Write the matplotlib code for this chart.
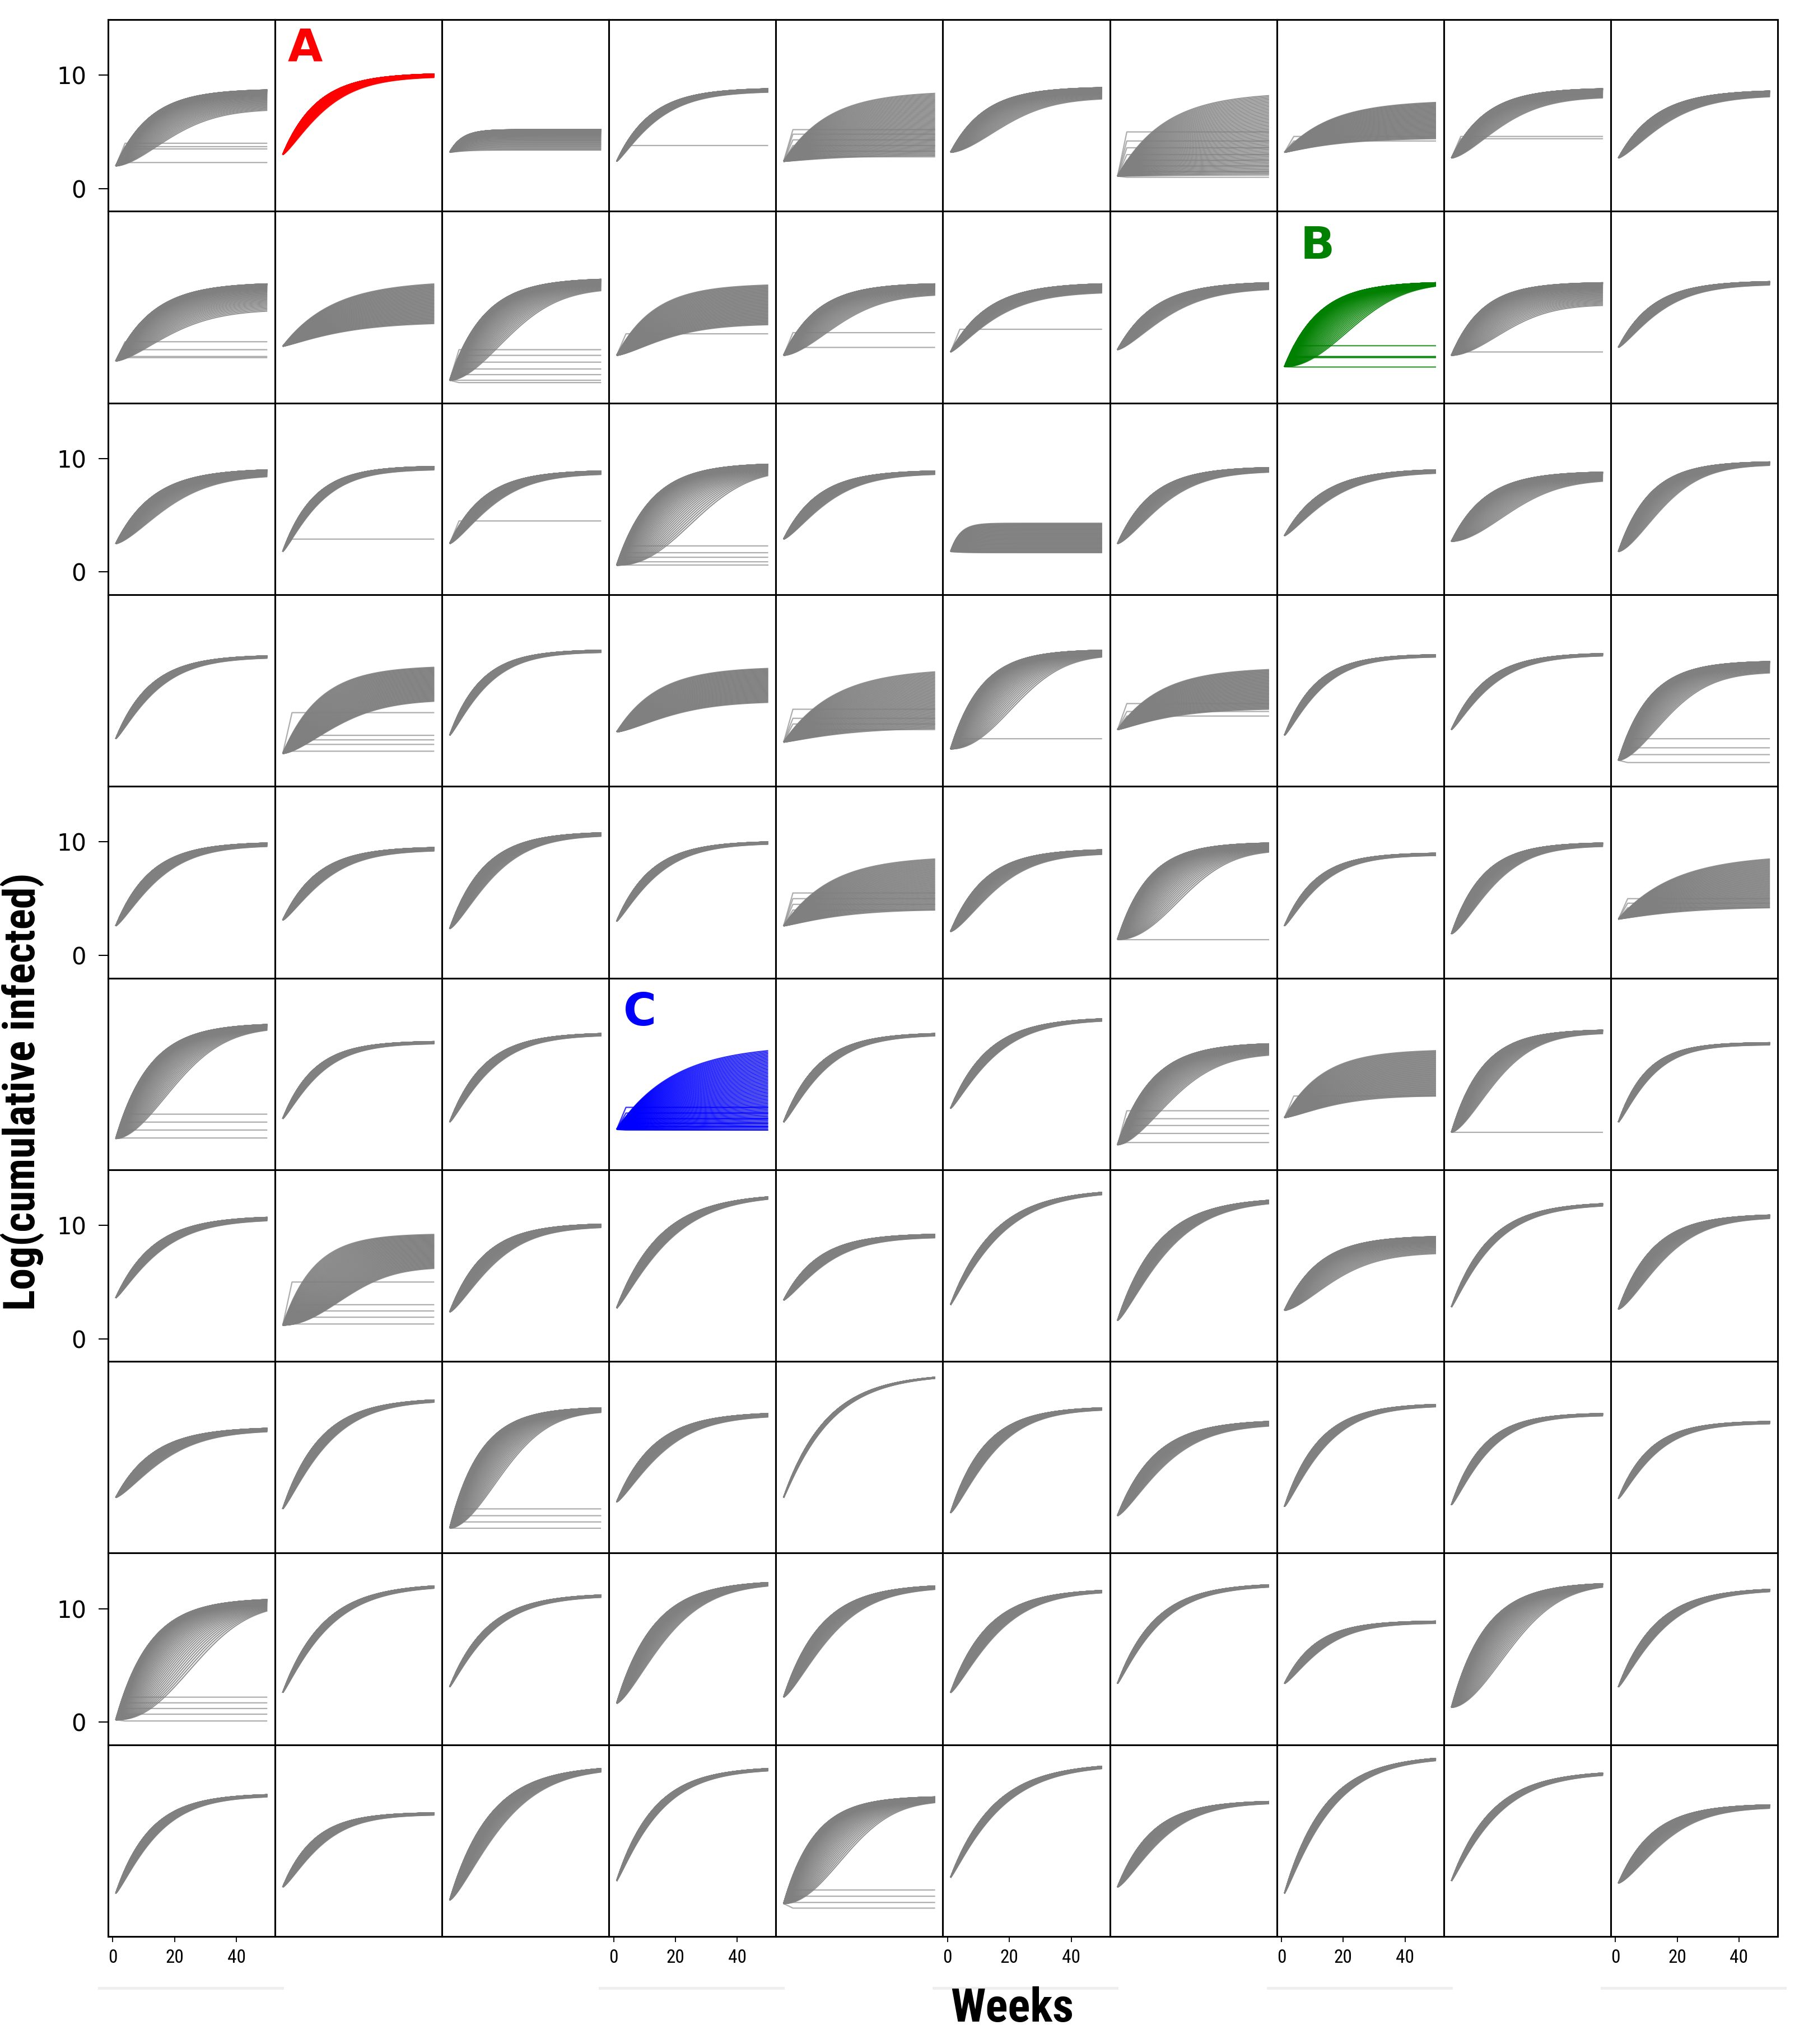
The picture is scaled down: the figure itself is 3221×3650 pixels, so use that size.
import numpy as np
import matplotlib.pyplot as plt
from matplotlib.collections import LineCollection

# log(cumulative infected) at week 1, per panel (row by row)
START = [
    [2.0, 3.0, 3.2, 2.4, 2.4, 3.2, 1.1, 3.2, 2.7, 2.7],
    [1.7, 3.0, 0.0, 2.2, 2.2, 2.5, 2.7, 1.2, 2.2, 2.9],
    [2.5, 1.8, 2.5, 0.6, 2.9, 1.8, 2.5, 3.2, 2.7, 1.8],
    [2.2, 0.9, 2.5, 2.8, 1.9, 1.3, 3.0, 2.5, 3.0, 0.3],
    [2.6, 3.1, 2.35, 3.0, 2.6, 2.1, 1.4, 2.6, 1.9, 3.2],
    [0.75, 2.5, 2.2, 1.55, 2.2, 3.4, 0.2, 2.6, 1.3, 2.2],
    [3.6, 1.2, 2.35, 2.7, 3.4, 3.0, 1.6, 2.5, 2.8, 2.6],
    [2.9, 1.9, 0.2, 2.5, 2.9, 1.55, 1.3, 2.1, 2.25, 2.8],
    [0.2, 2.6, 3.1, 1.65, 2.2, 2.6, 3.4, 3.4, 1.3, 3.1],
    [1.8, 2.35, 1.2, 2.9, 0.9, 3.2, 2.35, 1.8, 2.9, 2.7],
]
# upper value reached at week 50
FINAL = [
    [8.7, 10.1, 5.2, 8.8, 8.4, 8.9, 8.2, 7.6, 8.8, 8.6],
    [8.5, 8.5, 8.9, 8.4, 8.5, 8.5, 8.6, 8.6, 8.6, 8.7],
    [9.0, 9.3, 8.9, 9.5, 8.9, 4.3, 9.2, 9.0, 8.8, 9.7],
    [9.5, 8.5, 10.0, 8.4, 8.1, 10.0, 8.3, 9.6, 9.7, 9.0],
    [9.9, 9.5, 10.8, 10.0, 8.5, 9.3, 9.9, 9.0, 9.9, 8.5],
    [10.8, 9.3, 10.0, 8.5, 10.0, 11.3, 9.1, 8.5, 10.3, 9.2],
    [10.7, 9.2, 10.1, 12.5, 9.2, 12.9, 12.2, 9.0, 11.9, 10.9],
    [9.0, 11.5, 10.8, 10.3, 13.5, 10.8, 9.6, 11.1, 10.3, 9.6],
    [10.8, 12.0, 11.2, 12.3, 12.0, 11.6, 12.1, 8.9, 12.2, 11.7],
    [10.5, 8.9, 12.8, 12.8, 10.3, 13.0, 9.9, 13.7, 12.4, 9.6],
]
# weeks to bend over
TAU = [
    [11, 11, 4, 11, 14, 11, 15, 15, 11, 12],
    [12, 16, 11, 12, 11, 12, 12, 11, 10, 11],
    [12, 10, 11, 11, 11, 3, 11, 12, 11, 10],
    [11, 12, 10, 13, 16, 10, 14, 10, 11, 10],
    [11, 11, 11, 11, 15, 11, 10, 10, 10, 18],
    [11, 10, 11, 18, 11, 12, 11, 12, 10, 9],
    [12, 10, 11, 14, 11, 14, 13, 11, 12, 11],
    [12, 12, 10, 12, 14, 11, 12, 11, 10, 10],
    [11, 13, 12, 12, 12, 12, 12, 10, 11, 12],
    [11, 10, 13, 12, 10, 14, 11, 13, 13, 11],
]
# how late the slowest runs take off
LAG = [
    [1.0, 0.4, 0.3, 0.3, 0.3, 1.0, 0.3, 0.2, 0.8, 0.5],
    [0.8, 0.3, 1.2, 0.6, 1.0, 0.4, 0.6, 1.5, 1.2, 0.4],
    [0.7, 0.3, 0.5, 1.8, 0.5, 0.2, 0.6, 0.4, 1.2, 0.8],
    [0.3, 0.8, 0.3, 0.6, 0.3, 1.6, 0.3, 0.3, 0.3, 1.0],
    [0.4, 0.4, 0.5, 0.3, 0.3, 0.6, 1.6, 0.3, 0.6, 0.2],
    [1.2, 0.3, 0.3, 0.2, 0.3, 0.3, 1.0, 0.5, 0.8, 0.3],
    [0.3, 1.5, 0.5, 0.3, 0.4, 0.2, 0.4, 0.8, 0.2, 0.6],
    [0.5, 0.3, 1.2, 0.4, 0.1, 0.4, 0.5, 0.3, 0.3, 0.3],
    [1.8, 0.2, 0.2, 0.6, 0.5, 0.4, 0.2, 0.4, 1.2, 0.3],
    [0.3, 0.4, 0.5, 0.2, 1.5, 0.2, 0.5, 0.2, 0.2, 0.6],
]
# how far below FINAL the lowest run ends
DROP = [
    [1.8, 0.3, 1.8, 0.3, 5.5, 1.0, 7.0, 3.2, 0.8, 0.5],
    [2.4, 3.5, 1.0, 3.5, 1.0, 0.8, 0.6, 0.3, 2.0, 0.3],
    [0.6, 0.3, 0.3, 1.0, 0.3, 2.6, 0.4, 0.3, 0.8, 0.3],
    [0.2, 3.0, 0.2, 3.0, 5.0, 0.6, 3.5, 0.2, 0.2, 1.0],
    [0.3, 0.3, 0.3, 0.2, 4.5, 0.4, 0.8, 0.2, 0.3, 4.3],
    [0.5, 0.2, 0.2, 7.0, 0.2, 0.2, 1.0, 4.0, 0.3, 0.2],
    [0.3, 3.0, 0.3, 0.2, 0.3, 0.2, 0.3, 1.5, 0.2, 0.3],
    [0.3, 0.2, 0.4, 0.3, 0.1, 0.2, 0.4, 0.2, 0.2, 0.2],
    [1.0, 0.2, 0.2, 0.3, 0.3, 0.2, 0.2, 0.2, 0.3, 0.2],
    [0.2, 0.2, 0.3, 0.2, 0.5, 0.2, 0.2, 0.2, 0.2, 0.3],
]
# runs that died out early (flat lines), by (row, col)
FLATS = {
    (0, 0): [4.0, 3.7, 3.5, 2.3],
    (0, 3): [3.8],
    (0, 4): [2.8, 3.3, 3.8, 4.3, 4.8, 5.2],
    (0, 6): [1.0, 1.5, 2.0, 2.5, 3.0, 3.6, 4.2, 5.0],
    (0, 7): [4.2, 4.6],
    (0, 8): [4.6, 4.4],
    (1, 0): [3.4, 2.7, 2.1, 2.0],
    (1, 2): [2.7, 2.2, 1.6, 1.0, 0.5, 0.0, -0.2],
    (1, 3): [4.1],
    (1, 4): [4.2, 2.9],
    (1, 5): [4.5],
    (1, 7): [3.05, 2.1, 2.06, 2.0, 1.17],
    (1, 8): [2.5],
    (2, 1): [2.9],
    (2, 2): [4.5],
    (2, 3): [2.3, 1.7, 1.3, 0.9, 0.6],
    (3, 1): [4.5, 2.5, 2.1, 1.7, 1.1],
    (3, 4): [3.0, 3.5, 4.0, 4.8],
    (3, 5): [2.2],
    (3, 6): [5.3, 4.6, 4.2],
    (3, 9): [2.2, 1.4, 0.8, 0.1],
    (4, 4): [4.0, 4.5, 5.0, 5.5],
    (4, 6): [1.4],
    (4, 9): [4.2, 4.6, 5.0],
    (5, 0): [2.9, 2.2, 1.5, 0.8],
    (5, 3): [1.5, 1.8, 2.1, 2.5, 3.0, 3.5],
    (5, 6): [3.2, 2.5, 1.9, 1.2, 0.4],
    (5, 7): [4.5],
    (5, 8): [1.3],
    (6, 1): [5.0, 3.0, 2.45, 1.9, 1.3],
    (7, 2): [1.9, 1.3, 0.75, 0.2],
    (8, 0): [2.2, 1.7, 1.2, 0.7, 0.1],
    (9, 4): [2.1, 1.55, 1.0, 0.5],
}
# highlighted panels: letter, colour, letter position in the panel
HIGHLIGHT = {
    (0, 1): ('A', 'red', 0.075, 0.96),
    (1, 7): ('B', 'green', 0.14, 0.93),
    (5, 3): ('C', 'blue', 0.085, 0.93),
}

YTICK_ROWS = [0, 2, 4, 6, 8]
XTICK_COLS = [0, 3, 5, 7, 9]
NARROW = ['Roboto Condensed', 'Fira Sans Condensed', 'PT Sans Narrow',
          'Archivo Narrow', 'Open Sans Condensed', 'DejaVu Sans']


def runs(y0, y1, tau, lag, drop, n=60):
    s = np.linspace(0, 49, 99)
    q = 1.0 if drop > 2.5 else 3.0
    out = []
    for k in range(n):
        f = (k / (n - 1)) ** q
        tk = tau * (1 + lag * f)
        pk = 1 + 0.7 * lag * f
        g = 1 - np.exp(-(s / tk) ** pk)
        g = g / g[-1]
        yend = y1 - drop * f
        out.append(np.column_stack([s + 1, y0 + (yend - y0) * g]))
    return out


def flat_runs(y0, levels):
    return [np.array([[1, y0], [4, v], [50, v]]) for v in levels]


fig, axes = plt.subplots(10, 10, figsize=(32.21, 36.5), dpi=100)
fig.subplots_adjust(left=0.0599, right=0.9854, top=0.9904, bottom=0.0526,
                    wspace=0, hspace=0)

for r in range(10):
    for c in range(10):
        ax = axes[r][c]
        y0 = START[r][c]
        col = '#808080'
        fcol = '#999999'
        if (r, c) in HIGHLIGHT:
            col = HIGHLIGHT[(r, c)][1]
            fcol = col
        fl = flat_runs(y0, FLATS.get((r, c), []))
        ax.add_collection(LineCollection(fl, colors=fcol, linewidths=1.6, alpha=0.8))
        lines = runs(y0, FINAL[r][c], TAU[r][c], LAG[r][c], DROP[r][c])
        ax.add_collection(LineCollection(lines, colors=col, linewidths=1.5, alpha=0.85))
        ax.set_xlim(-1.5, 52.5)
        ax.set_ylim(-2, 14.9)
        for sp in ax.spines.values():
            sp.set_linewidth(2.2)
            sp.set_color('black')
        if c == 0 and r in YTICK_ROWS:
            ax.set_yticks([0, 10])
            ax.tick_params(axis='y', length=12, width=1.5, pad=16, labelsize=30)
        else:
            ax.set_yticks([])
        if r == 9 and c in XTICK_COLS:
            ax.set_xticks([0, 20, 40])
            ax.tick_params(axis='x', length=7, width=1.3, pad=9, labelsize=24)
            for lab in ax.get_xticklabels():
                lab.set_family(NARROW)
            # light rule under each labelled block
            bb = ax.get_position()
            fig.add_artist(plt.Line2D([bb.x0 - 0.005, bb.x1 + 0.004], [0.0274, 0.0274],
                                      transform=fig.transFigure, color='#eeeeee', lw=3.5))
        else:
            ax.set_xticks([])
        if (r, c) in HIGHLIGHT:
            lab, hc, lx, ly = HIGHLIGHT[(r, c)]
            ax.text(lx, ly, lab, transform=ax.transAxes, color=hc,
                    fontsize=58, fontweight='bold', va='top', ha='left')

fig.text(0.561, 0.017, 'Weeks', ha='center', va='center', fontsize=60,
         fontweight='bold', family=NARROW)
fig.text(0.0124, 0.466, 'Log(cumulative infected)', ha='center', va='center',
         rotation=90, fontsize=56, fontweight='bold', family=NARROW)

plt.savefig('out.png', dpi=100)
